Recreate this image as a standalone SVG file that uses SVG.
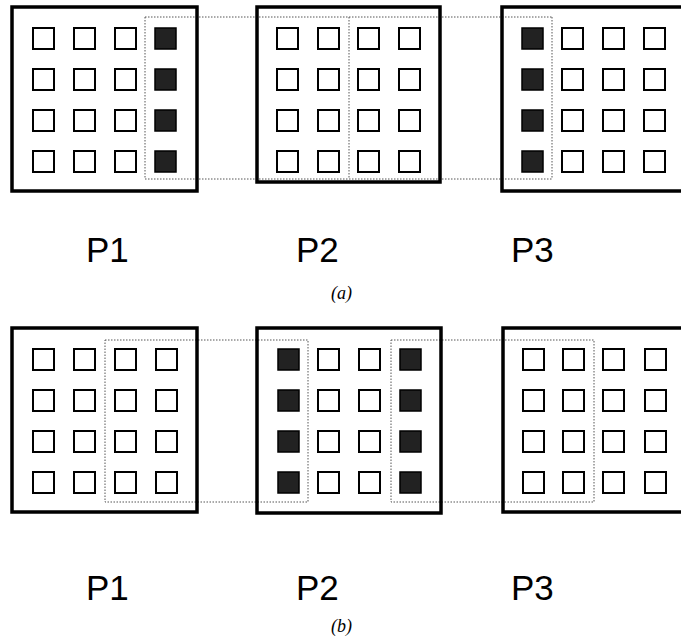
<svg xmlns="http://www.w3.org/2000/svg" width="681" height="639" viewBox="0 0 681 639">
<defs>
<style>
.box{fill:none;stroke:#000;stroke-width:3.5}
.c{fill:#fff;stroke:#000;stroke-width:2}
.g{fill:#222;stroke:#000;stroke-width:1.5}
.dot{fill:none;stroke:#555;stroke-width:1;stroke-dasharray:1.5 1.5}
.lbl{font-family:"Liberation Sans",Arial,sans-serif;font-size:35px;fill:#000}
.cap{font-family:"Liberation Serif","Times New Roman",serif;font-style:italic;font-size:18px;fill:#000}
</style>
<symbol id="col" overflow="visible">
<rect class="c" x="0" y="0" width="21" height="21"/>
<rect class="c" x="0" y="41" width="21" height="21"/>
<rect class="c" x="0" y="82" width="21" height="21"/>
<rect class="c" x="0" y="123" width="21" height="21"/>
</symbol>
<symbol id="gcol" overflow="visible">
<rect class="g" x="0" y="0" width="21" height="21"/>
<rect class="g" x="0" y="41" width="21" height="21"/>
<rect class="g" x="0" y="82" width="21" height="21"/>
<rect class="g" x="0" y="123" width="21" height="21"/>
</symbol>
</defs>
<rect width="681" height="639" fill="#fff"/>

<g id="connectors">
<path class="dot" d="M145,17 H552 M145,179 H552 M145,17 V179 M349,17 V179 M552,17 V179"/>
<path class="dot" d="M105,340 H308 V502 H105 Z M391,340 H594 V502 H391 Z"/>
</g>

<g id="a-P1">
<rect class="box" x="12" y="7" width="185" height="184"/>
<use href="#col" x="33" y="28"/>
<use href="#col" x="74" y="28"/>
<use href="#col" x="115" y="28"/>
<use href="#gcol" x="155" y="28"/>
<text class="lbl" x="86" y="262">P1</text>
</g>
<g id="a-P2">
<rect class="box" x="257" y="7" width="183" height="175"/>
<use href="#col" x="277" y="28"/>
<use href="#col" x="318" y="28"/>
<use href="#col" x="358" y="28"/>
<use href="#col" x="399" y="28"/>
<text class="lbl" x="296" y="262">P2</text>
</g>
<g id="a-P3">
<rect class="box" x="502" y="7" width="190" height="184"/>
<use href="#gcol" x="522" y="28"/>
<use href="#col" x="562" y="28"/>
<use href="#col" x="603" y="28"/>
<use href="#col" x="644" y="28"/>
<text class="lbl" x="511" y="262">P3</text>
</g>
<text class="cap" x="331" y="299">(a)</text>

<g id="b-P1">
<rect class="box" x="12" y="328" width="185" height="184"/>
<use href="#col" x="33" y="349"/>
<use href="#col" x="74" y="349"/>
<use href="#col" x="115" y="349"/>
<use href="#col" x="156" y="349"/>
<text class="lbl" x="86" y="600">P1</text>
</g>
<g id="b-P2">
<rect class="box" x="257" y="328" width="184" height="185"/>
<use href="#gcol" x="278" y="349"/>
<use href="#col" x="318" y="349"/>
<use href="#col" x="359" y="349"/>
<use href="#gcol" x="400" y="349"/>
<text class="lbl" x="296" y="600">P2</text>
</g>
<g id="b-P3">
<rect class="box" x="503" y="328" width="190" height="184"/>
<use href="#col" x="523" y="349"/>
<use href="#col" x="563" y="349"/>
<use href="#col" x="603" y="349"/>
<use href="#col" x="645" y="349"/>
<text class="lbl" x="511" y="600">P3</text>
</g>
<text class="cap" x="331" y="632">(b)</text>
</svg>
